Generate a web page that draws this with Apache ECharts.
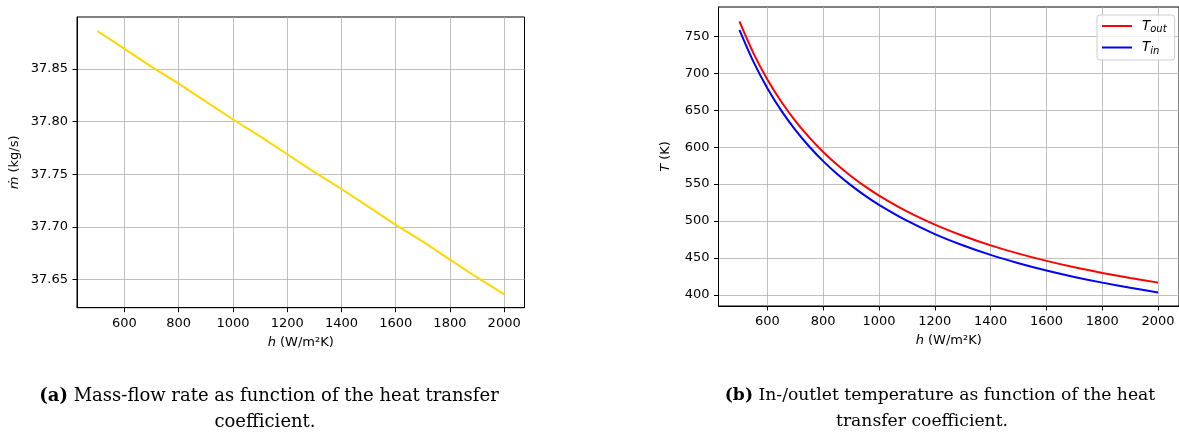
<!DOCTYPE html>
<html>
<head>
<meta charset="utf-8">
<script src="https://cdn.jsdelivr.net/npm/echarts@6/dist/echarts.min.js"></script>
<style>
  html, body { margin: 0; padding: 0; background: #fff; }
  #chart { width: 1179px; height: 439px; }
</style>
</head>
<body>
<div id="chart"></div>
<script>
// heat transfer coefficient h (W/m2K)
const hMass = [500, 600, 700, 800, 900, 1000, 1100, 1200, 1300, 1400, 1500, 1600, 1700, 1800, 1900, 2000];
// mass-flow rate (kg/s)
const massFlow = [37.886, 37.869, 37.852, 37.836, 37.819, 37.802, 37.786, 37.769, 37.752, 37.736, 37.719, 37.702, 37.686, 37.669, 37.652, 37.636];

const hTemp = [500, 550, 600, 650, 700, 750, 800, 850, 900, 950, 1000, 1100, 1200, 1300, 1400, 1500, 1600, 1700, 1800, 1900, 2000];
// outlet / inlet temperature (K)
const tOut = [770.1, 727.2, 691.5, 661.3, 635.5, 613.1, 593.4, 576.1, 560.7, 546.9, 534.5, 513.1, 495.3, 480.2, 467.2, 456.0, 446.2, 437.5, 429.9, 423.0, 416.8];
const tIn = [758.6, 715.6, 679.7, 649.4, 623.4, 600.9, 581.1, 563.7, 548.3, 534.4, 522.0, 500.5, 482.5, 467.4, 454.3, 443.1, 433.2, 424.5, 416.8, 409.9, 403.6];

const xTicks = [600, 800, 1000, 1200, 1400, 1600, 1800, 2000];
const massTicks = [37.65, 37.70, 37.75, 37.80, 37.85];
const tempTicks = [400, 450, 500, 550, 600, 650, 700, 750];

const pairs = (xs, ys) => xs.map((x, i) => [x, ys[i]]);

const font = "DejaVu Sans";
const lbl = { color: "#000", fontSize: 13, fontFamily: font };
const italic = { fontStyle: "italic", fontSize: 13, fontFamily: font, color: "#000" };

function xAxisOf(gridIndex) {
  return {
    type: "value",
    gridIndex: gridIndex,
    min: 425,
    max: 2075,
    name: "{i|h} (W/m²K)",
    nameLocation: "middle",
    nameGap: 28,
    nameTextStyle: Object.assign({}, lbl, { rich: { i: italic } }),
    axisLine: { show: true, onZero: false, lineStyle: { color: "#000", width: 1 } },
    axisTick: { show: true, length: 4.5, customValues: xTicks, lineStyle: { color: "#000" } },
    axisLabel: Object.assign({}, lbl, { margin: 9, customValues: xTicks, formatter: (v) => String(v) }),
    splitLine: { show: true, lineStyle: { color: "#b0b0b0", width: 0.8 } },
  };
}

function caption(x, y, text, size) {
  return {
    type: "text",
    style: {
      x: x, y: y,
      text: text,
      textAlign: "center",
      textVerticalAlign: "middle",
      font: size + "px 'DejaVu Serif'",
      fill: "#000",
      rich: {
        b: { fontWeight: "bold", fontSize: size, fontFamily: "DejaVu Serif", fill: "#000" },
        n: { fontSize: size, fontFamily: "DejaVu Serif", fill: "#000" },
      },
    },
  };
}

const chart = echarts.init(document.getElementById("chart"));

chart.setOption({
  animation: false,
  backgroundColor: "#fff",
  grid: [
    { left: 77, top: 17, width: 447.5, height: 290.7, show: true, borderColor: "#000", borderWidth: 1 },
    { left: 718.5, top: 7, width: 461.5, height: 299, show: true, borderColor: "#000", borderWidth: 1 },
  ],
  xAxis: [xAxisOf(0), xAxisOf(1)],
  yAxis: [
    {
      type: "value",
      gridIndex: 0,
      min: 37.6233,
      max: 37.8993,
      name: "{i|ṁ} (kg/s)",
      nameLocation: "middle",
      nameGap: 56,
      nameTextStyle: Object.assign({}, lbl, { rich: { i: italic } }),
      axisLine: { show: true, lineStyle: { color: "#000", width: 1 } },
      axisTick: { show: true, length: 4.5, customValues: massTicks, lineStyle: { color: "#000" } },
      axisLabel: Object.assign({}, lbl, {
        margin: 9,
        customValues: massTicks,
        formatter: (v) => v.toFixed(2),
      }),
      splitLine: { show: true, lineStyle: { color: "#b0b0b0", width: 0.8 } },
    },
    {
      type: "value",
      gridIndex: 1,
      min: 385.2,
      max: 789.5,
      name: "{i|T} (K)",
      nameLocation: "middle",
      nameGap: 46,
      nameTextStyle: Object.assign({}, lbl, { rich: { i: italic } }),
      axisLine: { show: true, lineStyle: { color: "#000", width: 1 } },
      axisTick: { show: true, length: 4.5, customValues: tempTicks, lineStyle: { color: "#000" } },
      axisLabel: Object.assign({}, lbl, { margin: 9, customValues: tempTicks, formatter: (v) => String(v) }),
      splitLine: { show: true, lineStyle: { color: "#b0b0b0", width: 0.8 } },
    },
  ],
  legend: {
    orient: "vertical",
    left: 1097,
    top: 15,
    padding: [4, 8, 4, 5],
    itemWidth: 30,
    itemHeight: 2,
    itemGap: 6,
    borderColor: "#cccccc",
    borderWidth: 1,
    borderRadius: 3,
    backgroundColor: "rgba(255,255,255,0.8)",
    data: [
      { name: "T_out", icon: "rect" },
      { name: "T_in", icon: "rect" },
    ],
    formatter: (name) => (name === "T_out" ? "{i|T}{s|out}" : "{i|T}{s|in}"),
    textStyle: {
      color: "#000",
      rich: {
        i: { fontStyle: "italic", fontSize: 13.5, fontFamily: font, color: "#000", padding: [0, 0, 0, 5] },
        s: { fontStyle: "italic", fontSize: 10, fontFamily: font, color: "#000", padding: [7, 0, 0, 0] },
      },
    },
  },
  series: [
    {
      type: "line",
      xAxisIndex: 0,
      yAxisIndex: 0,
      data: pairs(hMass, massFlow),
      showSymbol: false,
      lineStyle: { color: "#ffd700", width: 2 },
      itemStyle: { color: "#ffd700" },
    },
    {
      name: "T_out",
      type: "line",
      xAxisIndex: 1,
      yAxisIndex: 1,
      data: pairs(hTemp, tOut),
      showSymbol: false,
      smooth: 0.3,
      lineStyle: { color: "#ff0000", width: 2 },
      itemStyle: { color: "#ff0000" },
    },
    {
      name: "T_in",
      type: "line",
      xAxisIndex: 1,
      yAxisIndex: 1,
      data: pairs(hTemp, tIn),
      showSymbol: false,
      smooth: 0.3,
      lineStyle: { color: "#0000ff", width: 2 },
      itemStyle: { color: "#0000ff" },
    },
  ],
  graphic: [
    caption(269, 396, "{b|(a)}{n| Mass-flow rate as function of the heat transfer}", 18),
    caption(265, 422, "coefficient.", 18),
    caption(940, 396, "{b|(b)}{n| In-/outlet temperature as function of the heat}", 17.2),
    caption(922, 422, "transfer coefficient.", 17.2),
  ],
});
</script>
</body>
</html>
